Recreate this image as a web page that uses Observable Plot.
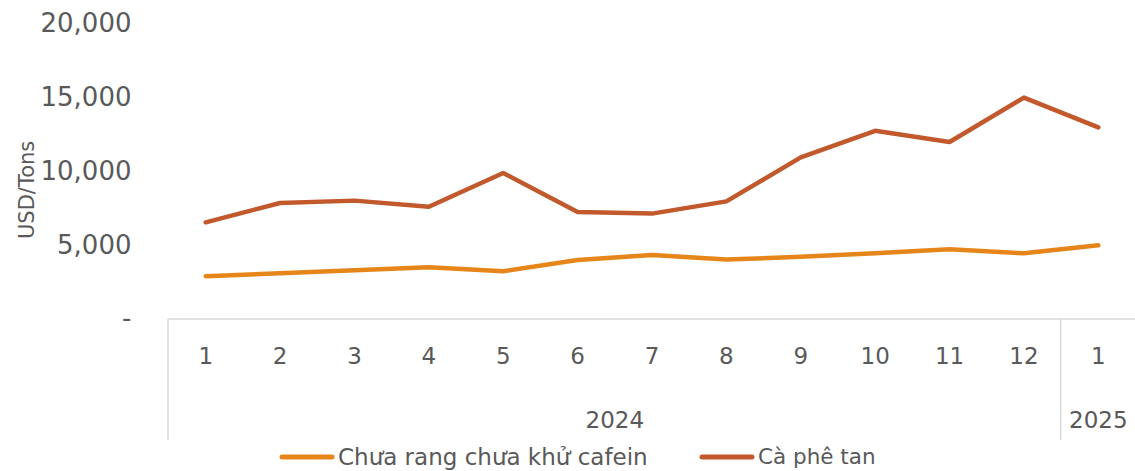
<!DOCTYPE html>
<html>
<head>
<meta charset="utf-8">
<script src="https://cdn.jsdelivr.net/npm/d3@7"></script>
<script src="https://cdn.jsdelivr.net/npm/@observablehq/plot@0.6"></script>
<style>
  html, body { margin: 0; padding: 0; background: #fff; }
  #chart { width: 1135px; }
  .legend { height: 29px; display: flex; align-items: center; font-family: "DejaVu Sans", sans-serif; color: #595959; }
  .legend .item { display: flex; align-items: center; position: absolute; }
  .legend svg { display: block; }
</style>
</head>
<body>
<div id="chart"></div>
<script>
// ---- data ----
const months = ["1","2","3","4","5","6","7","8","9","10","11","12","1"];
const years = ["2024","2024","2024","2024","2024","2024","2024","2024","2024","2024","2024","2024","2025"];
const seriesNames = ["Chưa rang chưa khử cafein", "Cà phê tan"];
const unroasted = [2900, 3100, 3300, 3500, 3230, 4000, 4340, 4030, 4210, 4450, 4720, 4450, 5000];
const instant = [6550, 7860, 8020, 7610, 9890, 7250, 7140, 7970, 10950, 12750, 11990, 15000, 12980];
const yTicks = [0, 5000, 10000, 15000, 20000];
const colors = ["#E6861A", "#C1592C"];

// ---- derived tables ----
const rows = [];
months.forEach((m, i) => {
  rows.push({i: i + 1, series: seriesNames[0], value: unroasted[i]});
  rows.push({i: i + 1, series: seriesNames[1], value: instant[i]});
});
const yearGroups = d3.groups(months.map((m, i) => ({i: i + 1, year: years[i]})), d => d.year)
  .map(([year, items]) => ({year, center: d3.mean(items, d => d.i), start: d3.min(items, d => d.i) - 0.5}));
const separators = yearGroups.map(g => g.start);

const textColor = "#595959";
const gridColor = "#d9d9d9";
const H = 442;

const separatorMark = (index, scales, values, dims) => {
  const g = d3.create("svg:g");
  for (const s of separators) {
    const x = scales.x(s);
    g.append("line")
      .attr("x1", x).attr("x2", x)
      .attr("y1", scales.y(0)).attr("y2", dims.height - 2)
      .attr("stroke", gridColor).attr("stroke-width", 1.5);
  }
  return g.node();
};

const plot = Plot.plot({
  width: 1135,
  height: H,
  marginLeft: 168,
  marginRight: 0,
  marginTop: 23.3,
  marginBottom: H - 318.5,
  x: {type: "linear", domain: [0.5, months.length + 0.5], axis: null},
  y: {domain: [0, 20000], axis: null},
  color: {domain: seriesNames, range: colors},
  style: {fontFamily: "DejaVu Sans, sans-serif", color: textColor, overflow: "visible"},
  marks: [
    Plot.ruleY([0], {stroke: gridColor, strokeWidth: 1.5}),
    separatorMark,
    Plot.axisY(yTicks, {
      tickSize: 0, tickPadding: 37, fontSize: 26, fill: textColor,
      tickFormat: d => d === 0 ? "-" : d3.format(",")(d), label: null
    }),
    Plot.text(["USD/Tons"], {
      frameAnchor: "left", textAnchor: "middle", lineAnchor: "middle", rotate: -90, dx: -141, dy: 18.5,
      fontSize: 21, fill: textColor
    }),
    Plot.text(months, {
      x: (d, i) => i + 1, y: 0, dy: 37.5, text: d => d,
      fontSize: 23, fill: textColor
    }),
    Plot.text(yearGroups, {
      x: "center", y: 0, dy: 101.5, text: "year",
      fontSize: 23, fill: textColor
    }),
    Plot.line(rows, {
      x: "i", y: "value", z: "series", stroke: "series",
      strokeWidth: 4.5, strokeLinecap: "round", strokeLinejoin: "round"
    })
  ]
});
document.getElementById("chart").appendChild(plot);

// ---- legend ----
const legend = document.createElement("div");
legend.className = "legend";
legend.style.position = "relative";
const legendPos = [{left: 278, fs: 23}, {left: 698, fs: 21.5}];
seriesNames.forEach((name, k) => {
  const item = document.createElement("div");
  item.className = "item";
  item.style.left = legendPos[k].left + "px";
  item.style.top = "0px";
  item.style.height = "29px";
  item.innerHTML = `<svg width="58" height="10"><line x1="4" x2="54" y1="5" y2="5" stroke="${colors[k]}" stroke-width="5" stroke-linecap="round"/></svg><span style="font-size:${legendPos[k].fs}px;margin-left:2px">${name}</span>`;
  legend.appendChild(item);
});
document.body.appendChild(legend);
</script>
</body>
</html>
